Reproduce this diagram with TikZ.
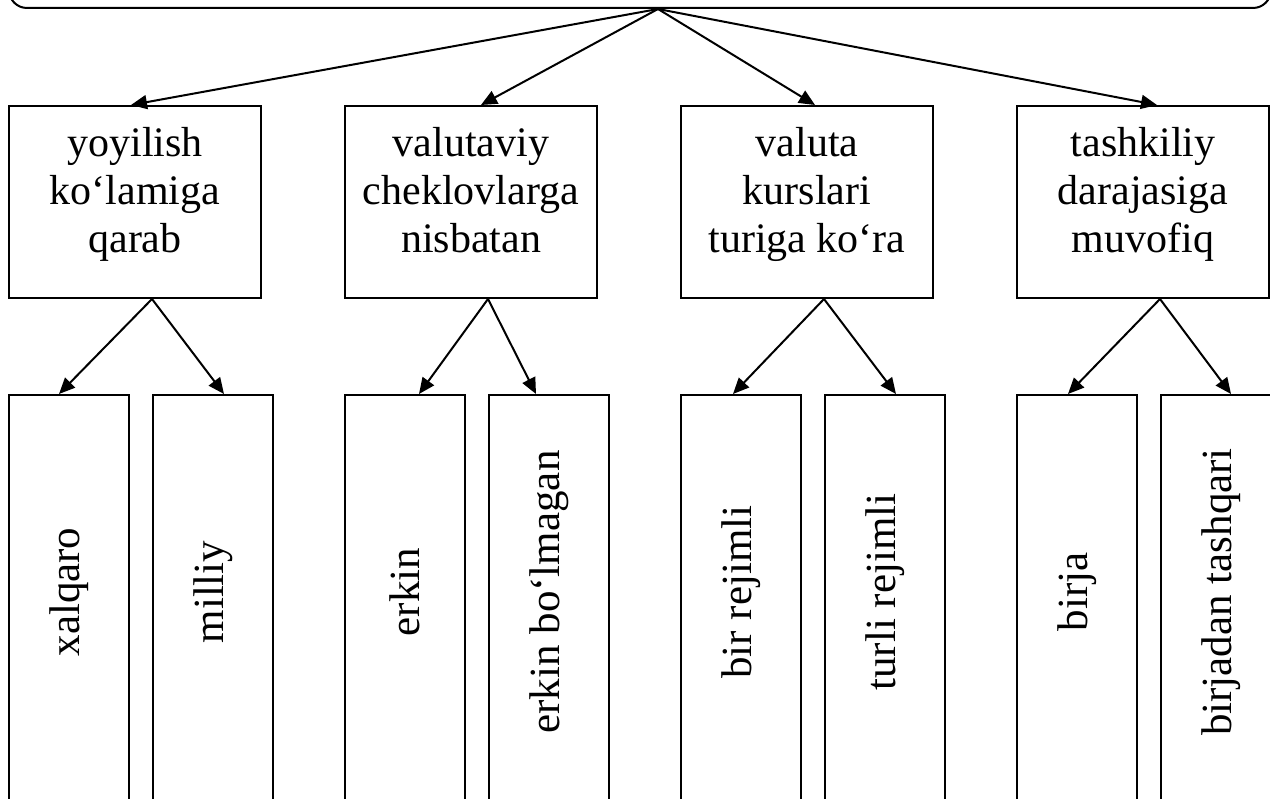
\documentclass[tikz,border=0pt]{standalone}
\usepackage{fontspec}
\setmainfont{Liberation Serif}
\usetikzlibrary{positioning,arrows.meta,calc}

\begin{document}
\begin{tikzpicture}[
    x=1pt, y=-1pt,
    font=\fontsize{42}{48}\selectfont,
    >={Triangle[length=16pt,width=14pt]},
    line width=2pt,
    box/.style   ={draw, line width=2pt, align=center, inner sep=0pt},
    topbox/.style={box, rounded corners=18pt,
                   minimum width=1262pt, minimum height=90pt},
    grpbox/.style={box, minimum width=252pt, minimum height=192pt,
                   execute at begin node=\strut,
                   execute at end node={\rule[-24pt]{0pt}{10pt}}},
    kidbox/.style={box, minimum width=120pt, minimum height=440pt},
    vtxt/.style  ={rotate=90, inner sep=0pt,
                   font=\fontsize{43}{48}\selectfont},
    arr/.style   ={->, line width=2pt},
]
\useasboundingbox (0,0) rectangle (1270,799);

% =========================================================
% Top: classification box (cut by the page edge)
% =========================================================
\node[topbox, anchor=south west] (root) at (8,9) {};

% =========================================================
% Middle row: the four criteria
% =========================================================
\node[grpbox, anchor=north west] (yoy) at (8,105)
    {yoyilish\\koʻlamiga\\qarab};
\node[grpbox, right=82pt of yoy] (val)
    {valutaviy\\cheklovlarga\\nisbatan};
\node[grpbox, right=82pt of val] (kur)
    {valuta\\kurslari\\turiga koʻra};
\node[grpbox, right=82pt of kur] (tash)
    {tashkiliy\\darajasiga\\muvofiq};

\draw[arr] ([xshift=18pt]root.south) -- ([xshift=-4pt]yoy.north);
\draw[arr] ([xshift=18pt]root.south) -- ([xshift=10pt]val.north);
\draw[arr] ([xshift=18pt]root.south) -- ([xshift=8pt]kur.north);
\draw[arr] ([xshift=18pt]root.south) -- ([xshift=14pt]tash.north);

% =========================================================
% Bottom row: kinds (text turned upright)
% =========================================================
\node[kidbox, below=95pt of yoy.south west, anchor=north west] (xal) {};
\node[kidbox, right=22pt of xal]  (mil) {};
\node[kidbox, below=95pt of val.south west, anchor=north west] (erk) {};
\node[kidbox, right=22pt of erk]  (erkb) {};
\node[kidbox, below=95pt of kur.south west, anchor=north west] (bir) {};
\node[kidbox, right=22pt of bir]  (tur) {};
\node[kidbox, below=95pt of tash.south west, anchor=north west] (brj) {};
\node[kidbox, right=22pt of brj]  (brjt) {};

\node[vtxt] (xal-t)  at ([yshift=-198pt]xal.north)  {xalqaro};
\node[vtxt] (mil-t)  at ([yshift=-198pt]mil.north)  {milliy};
\node[vtxt] (erk-t)  at ([yshift=-198pt]erk.north)  {erkin};
\node[vtxt] (erkb-t) at ([yshift=-198pt]erkb.north) {erkin boʻlmagan};
\node[vtxt] (bir-t)  at ([yshift=-198pt]bir.north)  {bir rejimli};
\node[vtxt] (tur-t)  at ([yshift=-198pt]tur.north)  {turli rejimli};
\node[vtxt] (brj-t)  at ([yshift=-198pt]brj.north)  {birja};
\node[vtxt] (brjt-t) at ([yshift=-198pt]brjt.north) {birjadan tashqari};

% criteria -> kinds
\draw[arr] (mil.north west |- yoy.south) -- ([xshift=-10pt]xal.north);
\draw[arr] (mil.north west |- yoy.south) -- ([xshift=11pt]mil.north);
\draw[arr] (erkb.north west |- val.south) -- ([xshift=14pt]erk.north);
\draw[arr] (erkb.north west |- val.south) -- ([xshift=-13pt]erkb.north);
\draw[arr] (tur.north west |- kur.south) -- ([xshift=-8pt]bir.north);
\draw[arr] (tur.north west |- kur.south) -- ([xshift=11pt]tur.north);
\draw[arr] (brjt.north west |- tash.south) -- ([xshift=-9pt]brj.north);
\draw[arr] (brjt.north west |- tash.south) -- ([xshift=10pt]brjt.north);

\end{tikzpicture}
\end{document}
